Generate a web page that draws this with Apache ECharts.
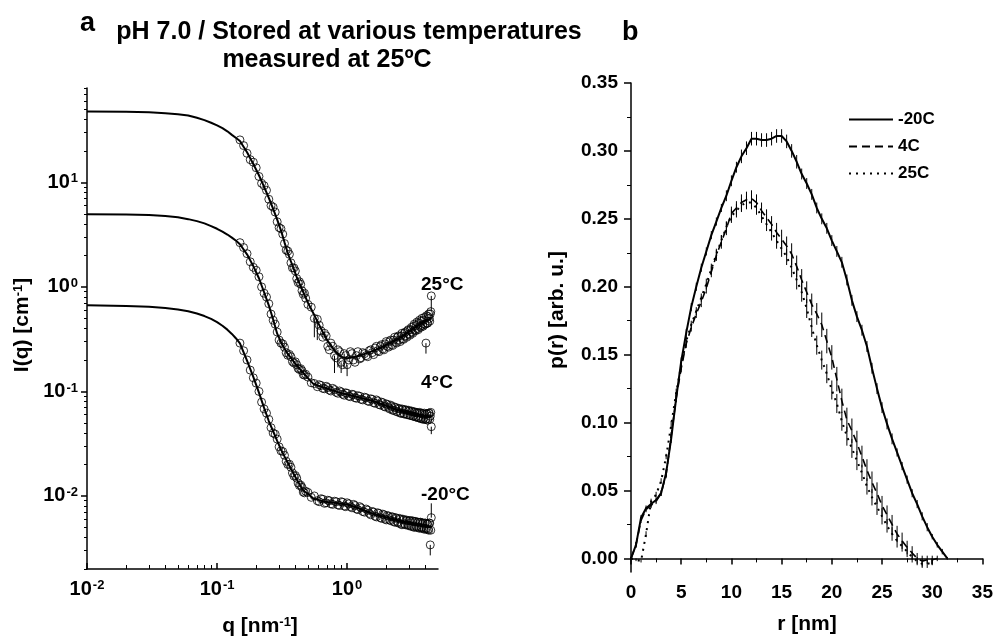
<!DOCTYPE html>
<html><head><meta charset="utf-8">
<script src="https://cdn.jsdelivr.net/npm/echarts@6/dist/echarts.min.js"></script>
<style>html,body{margin:0;padding:0;background:#fff}#c{width:996px;height:637px}</style>
</head><body><div id="c"></div>
<script>
// ---------- Panel a : SAXS curves ----------
const qFit = [0.01,0.02,0.03,0.04,0.05,0.06,0.07,0.08,0.09,0.10,0.11,0.12,0.13,0.14,0.15,0.17,0.19,0.21,0.23,0.25,0.27,0.29,0.31,0.33,0.35,0.37,0.39,0.41,0.43,0.45,0.47,0.50,0.55,0.60,0.65,0.70,0.80,0.90,1.0,1.2,1.4,1.6,1.8,2.0,2.3,2.6,3.0,3.4,3.8,4.2,4.44];
const fit25 = [47.6,47.4,46.8,45.9,44.9,43.7,41.5,39.4,37.2,35.1,33.0,30.8,28.5,26.6,24.9,19.4,15.0,11.7,9.04,7.11,5.57,4.40,3.48,2.67,2.11,1.75,1.47,1.24,1.08,0.95,0.84,0.706,0.560,0.450,0.371,0.311,0.247,0.214,0.208,0.216,0.231,0.246,0.261,0.279,0.304,0.330,0.374,0.418,0.452,0.483,0.501];
const fit4 = [4.96,4.93,4.87,4.76,4.63,4.45,4.26,4.05,3.82,3.60,3.38,3.17,2.96,2.76,2.56,2.05,1.58,1.21,0.889,0.667,0.488,0.357,0.297,0.257,0.228,0.209,0.192,0.177,0.166,0.155,0.146,0.134,0.118,0.1135,0.110,0.1067,0.101,0.0963,0.0933,0.0883,0.0842,0.0807,0.0765,0.0728,0.0683,0.0648,0.0625,0.0606,0.0589,0.0575,0.0568];
const fitM20 = [0.668,0.658,0.646,0.629,0.609,0.586,0.556,0.526,0.494,0.460,0.425,0.390,0.355,0.321,0.288,0.197,0.138,0.0975,0.0695,0.0521,0.0416,0.0337,0.0279,0.0239,0.0208,0.0182,0.0161,0.0144,0.0130,0.0117,0.0110,0.0105,0.00944,0.00917,0.00889,0.00877,0.00859,0.00841,0.00828,0.00771,0.00714,0.00671,0.00646,0.00624,0.00596,0.00574,0.00555,0.00537,0.00521,0.00509,0.00502];

const qData = [0.15,0.17,0.19,0.21,0.23,0.25,0.27,0.29,0.31,0.33,0.35,0.37,0.39,0.41,0.43,0.45,0.47,0.50,0.53,0.56,0.59,0.63,0.67,0.71,0.75,0.80,0.85,0.90,0.95,1.00,1.06,1.12,1.18,1.25,1.32,1.40,1.48,1.56,1.64,1.72,1.80,1.88,1.96,2.04,2.12,2.20,2.28,2.36,2.44,2.52,2.60,2.68,2.76,2.84,2.92,3.00,3.08,3.16,3.24,3.32,3.40,3.48,3.56,3.64,3.72,3.80,3.88,3.96,4.04,4.12,4.20,4.28,4.36,4.44];
const d25 = [25.5,19.0,15.6,11.4,9.3,6.9,5.8,4.2,3.6,2.6,2.2,1.70,1.52,1.20,1.12,0.92,0.87,0.68,0.64,0.50,0.49,0.38,0.36,0.27,0.29,0.22,0.25,0.19,0.23,0.18,0.24,0.20,0.22,0.205,0.235,0.22,0.245,0.235,0.26,0.245,0.27,0.255,0.285,0.27,0.30,0.28,0.31,0.295,0.33,0.31,0.34,0.32,0.36,0.34,0.38,0.355,0.39,0.37,0.42,0.39,0.43,0.40,0.45,0.42,0.47,0.43,0.48,0.44,0.29,0.45,0.52,0.50,0.55,0.82];
const d4 = [2.65,2.08,1.54,1.25,0.87,0.69,0.48,0.37,0.29,0.265,0.222,0.215,0.187,0.180,0.162,0.158,0.143,0.137,0.121,0.119,0.111,0.114,0.106,0.109,0.101,0.104,0.096,0.099,0.092,0.096,0.089,0.093,0.086,0.090,0.083,0.087,0.080,0.084,0.077,0.081,0.074,0.078,0.071,0.075,0.068,0.072,0.066,0.070,0.064,0.068,0.062,0.067,0.061,0.066,0.060,0.065,0.059,0.064,0.058,0.063,0.057,0.062,0.056,0.062,0.055,0.061,0.055,0.060,0.054,0.061,0.055,0.062,0.058,0.046];
const dM20 = [0.29,0.20,0.135,0.100,0.068,0.054,0.040,0.035,0.027,0.0245,0.0200,0.0188,0.0155,0.0148,0.0126,0.0121,0.0107,0.0108,0.0097,0.0100,0.0090,0.0094,0.0085,0.0091,0.0084,0.0089,0.0082,0.0088,0.0080,0.0086,0.0079,0.0083,0.0075,0.0079,0.0071,0.0075,0.0068,0.0071,0.0064,0.0069,0.0062,0.0067,0.0060,0.0065,0.0059,0.0063,0.0057,0.0062,0.0056,0.0061,0.0054,0.0060,0.0054,0.0059,0.0053,0.0058,0.0052,0.0058,0.0051,0.0057,0.0051,0.0056,0.0050,0.0056,0.0050,0.0055,0.0049,0.0055,0.0049,0.0054,0.0048,0.0055,0.0034,0.0062];
// interleaved second set of measured points
const qData2 = [0.16,0.18,0.20,0.22,0.24,0.26,0.28,0.30,0.32,0.34,0.36,0.38,0.40,0.42,0.44,0.46,0.48,0.61,0.65,0.69,0.73,0.775,0.825,0.875,0.925,0.975,1.03,1.09,1.15,1.21,1.28,1.36,1.44,1.52,1.60,1.68,1.76,1.84,1.92,2.00,2.08,2.16,2.24,2.32,2.40,2.48,2.56,2.64,2.72,2.80,2.88,2.96,3.04,3.12,3.20,3.28,3.36,3.44,3.52,3.60,3.68,3.76,3.84,3.92,4.00,4.08,4.16,4.24,4.32,4.40];
const d25b = [22.5,16.5,13.8,9.8,8.4,6.0,5.2,3.7,3.2,2.25,2.05,1.52,1.42,1.10,1.06,0.85,0.78,0.43,0.33,0.34,0.25,0.27,0.21,0.24,0.18,0.22,0.20,0.23,0.19,0.24,0.21,0.23,0.215,0.25,0.225,0.27,0.24,0.28,0.25,0.30,0.265,0.31,0.275,0.33,0.29,0.34,0.30,0.36,0.315,0.37,0.33,0.39,0.345,0.41,0.36,0.44,0.38,0.46,0.39,0.48,0.41,0.50,0.42,0.51,0.44,0.53,0.45,0.55,0.47,0.58];
const d4b = [2.38,1.74,1.44,1.00,0.80,0.55,0.44,0.31,0.285,0.235,0.226,0.193,0.192,0.166,0.165,0.145,0.146,0.116,0.107,0.112,0.103,0.107,0.098,0.101,0.094,0.097,0.090,0.094,0.087,0.091,0.084,0.088,0.081,0.085,0.078,0.083,0.075,0.079,0.072,0.076,0.070,0.074,0.066,0.071,0.064,0.069,0.062,0.068,0.061,0.067,0.060,0.066,0.059,0.065,0.058,0.064,0.057,0.063,0.056,0.063,0.055,0.062,0.054,0.062,0.054,0.061,0.053,0.062,0.054,0.063];
const dM20b = [0.245,0.160,0.120,0.079,0.062,0.045,0.039,0.0295,0.0266,0.0215,0.0201,0.0166,0.0157,0.0133,0.0127,0.0109,0.0111,0.0088,0.0093,0.0086,0.0090,0.0083,0.0088,0.0081,0.0087,0.0079,0.0084,0.0077,0.0081,0.0074,0.0077,0.0070,0.0073,0.0066,0.0070,0.0063,0.0068,0.0061,0.0066,0.0059,0.0064,0.0058,0.0063,0.0056,0.0061,0.0055,0.0060,0.0053,0.0059,0.0053,0.0058,0.0052,0.0058,0.0051,0.0057,0.0050,0.0057,0.0050,0.0056,0.0049,0.0056,0.0049,0.0055,0.0048,0.0055,0.0048,0.0054,0.0047,0.0055,0.0047];
// visible error bars [q, low, high]
const eb25 = [[0.56,0.33,0.50],[0.59,0.31,0.49],[0.80,0.15,0.22],[0.85,0.17,0.25],[0.90,0.15,0.19],[0.95,0.17,0.23],[1.00,0.14,0.18],[4.04,0.23,0.29],[4.44,0.59,0.82]];
const eb4 = [[4.44,0.039,0.046]];
const ebM20 = [[4.36,0.0027,0.0034],[4.44,0.0062,0.0085]];

const xMajorA = [0.01,0.1,1];
const xMajorExp = ['-2','-1','0'];
const xMinorA = [0.02,0.03,0.04,0.05,0.06,0.07,0.08,0.09,0.2,0.3,0.4,0.5,0.6,0.7,0.8,0.9,2,3,4];
const yMajorA = [0.01,0.1,1,10];
const yMajorExp = ['-2','-1','0','1'];
const yMinorA = [0.002,0.003,0.004,0.005,0.006,0.007,0.008,0.009,0.02,0.03,0.04,0.05,0.06,0.07,0.08,0.09,0.2,0.3,0.4,0.5,0.6,0.7,0.8,0.9,2,3,4,5,6,7,8,9,20,30,40,50,60,70,80];

// ---------- Panel b : p(r) ----------
const rGrid = [0,0.5,1,1.5,2,2.5,3,3.5,4,4.5,5,5.5,6,6.5,7,7.5,8,8.5,9,9.5,10,10.5,11,11.5,12,12.5,13,13.5,14,14.5,15,15.5,16,16.5,17,17.5,18,18.5,19,19.5,20,20.5,21,21.5,22,22.5,23,23.5,24,24.5,25,25.5,26,26.5,27,27.5,28,28.5,29,29.5,30,30.5,31,31.5];
const pM20 = [0.000,0.010,0.030,0.037,0.040,0.043,0.048,0.063,0.088,0.118,0.145,0.166,0.185,0.200,0.214,0.226,0.238,0.248,0.258,0.267,0.278,0.288,0.296,0.302,0.309,0.309,0.308,0.308,0.309,0.311,0.311,0.307,0.300,0.292,0.283,0.276,0.268,0.258,0.250,0.243,0.234,0.226,0.218,0.205,0.190,0.178,0.168,0.156,0.140,0.125,0.111,0.099,0.088,0.078,0.068,0.058,0.048,0.040,0.031,0.023,0.016,0.010,0.005,0.000];
const p4 = [0.000,0.010,0.028,0.036,0.039,0.042,0.048,0.062,0.090,0.118,0.140,0.158,0.170,0.180,0.189,0.199,0.211,0.223,0.233,0.243,0.254,0.258,0.262,0.264,0.265,0.262,0.256,0.251,0.246,0.240,0.235,0.230,0.224,0.215,0.205,0.196,0.187,0.180,0.172,0.160,0.148,0.132,0.116,0.102,0.094,0.085,0.075,0.065,0.056,0.048,0.039,0.032,0.025,0.018,0.013,0.008,0.004,0.000,-0.002,-0.001,-0.001,0.000];
const p25 = [0.000,-0.001,-0.002,0.018,0.042,0.047,0.057,0.075,0.098,0.122,0.142,0.160,0.172,0.182,0.192,0.202,0.213,0.224,0.234,0.244,0.252,0.256,0.260,0.262,0.262,0.258,0.252,0.246,0.240,0.234,0.228,0.222,0.214,0.205,0.196,0.184,0.170,0.157,0.146,0.136,0.124,0.114,0.101,0.090,0.081,0.072,0.063,0.053,0.045,0.038,0.031,0.024,0.018,0.013,0.009,0.005,0.001,-0.002,-0.004,-0.004,-0.003];
const eM20 = [0.001,0.002,0.002,0.002,0.002,0.002,0.002,0.003,0.003,0.003,0.003,0.003,0.003,0.003,0.003,0.003,0.003,0.003,0.003,0.004,0.004,0.004,0.005,0.005,0.005,0.005,0.005,0.005,0.005,0.005,0.005,0.005,0.005,0.005,0.004,0.004,0.004,0.004,0.004,0.004,0.004,0.004,0.004,0.004,0.004,0.004,0.004,0.004,0.004,0.004,0.004,0.004,0.004,0.003,0.003,0.003,0.003,0.003,0.003,0.003,0.002,0.002,0.002,0.001];
const e4 = [0.001,0.002,0.002,0.002,0.002,0.002,0.002,0.003,0.003,0.003,0.003,0.003,0.003,0.003,0.004,0.004,0.004,0.004,0.005,0.005,0.005,0.005,0.006,0.006,0.006,0.006,0.006,0.006,0.006,0.007,0.007,0.007,0.008,0.008,0.008,0.008,0.008,0.008,0.009,0.009,0.009,0.009,0.009,0.009,0.009,0.009,0.008,0.008,0.008,0.008,0.007,0.007,0.007,0.006,0.006,0.005,0.005,0.004,0.004,0.003,0.003,0.002];
const e25 = [0.001,0.001,0.001,0.002,0.002,0.002,0.002,0.002,0.003,0.003,0.003,0.003,0.003,0.003,0.003,0.004,0.004,0.004,0.004,0.004,0.005,0.005,0.005,0.005,0.005,0.005,0.005,0.005,0.006,0.006,0.006,0.006,0.007,0.007,0.007,0.007,0.007,0.007,0.007,0.007,0.007,0.007,0.007,0.007,0.007,0.007,0.006,0.006,0.006,0.006,0.006,0.005,0.005,0.005,0.004,0.004,0.004,0.003,0.003,0.003,0.002];
const yMajorB = [0,0.05,0.10,0.15,0.20,0.25,0.30,0.35];
const yMinorB = [0.025,0.075,0.125,0.175,0.225,0.275,0.325];
const legendNames = ['-20C','4C','25C'];

// ---------- build ----------
const FONT = '"Liberation Sans", Arial, Helvetica, sans-serif';
const chart = echarts.init(document.getElementById('c'), null, {renderer:'canvas'});
const pairs = (xs, ys) => ys.map((y, i) => [xs[i], y]);
const bars = (xs, ys, es) => ys.map((y, i) => [xs[i], y - es[i], y + es[i]]);
const errRender = (params, api) => {
  const a = api.coord([api.value(0), api.value(1)]);
  const b = api.coord([api.value(0), api.value(2)]);
  return {type:'line', shape:{x1:a[0], y1:a[1], x2:b[0], y2:b[1]}, style:{stroke:'#000', lineWidth:1}};
};
const expIndex = (vals, v) => vals.findIndex(t => Math.abs(Math.log10(t) - Math.log10(v)) < 1e-6);
const supRich = {
  b:{fontSize:20, fontWeight:'bold', fontFamily:FONT, color:'#000'},
  s:{fontSize:13, fontWeight:'bold', fontFamily:FONT, color:'#000', verticalAlign:'top', padding:[0,0,0,1]}
};
const black = {color:'#000', width:1.5};

const fitLine = (name, data) => ({name, type:'line', xAxisIndex:0, yAxisIndex:0, data, symbol:'none', silent:true,
  lineStyle:{color:'#000', width:2}, z:3});
const dots = (name, data) => ({name, type:'scatter', xAxisIndex:0, yAxisIndex:0, data, symbol:'circle', symbolSize:8, silent:true,
  itemStyle:{color:'rgba(0,0,0,0)', borderColor:'#000', borderWidth:1}, z:4});
const errSeries = (name, data, xi, yi) => ({name, type:'custom', xAxisIndex:xi, yAxisIndex:yi, data, renderItem:errRender,
  encode:{x:0, y:[1,2]}, silent:true, z:2});

const option = {
  animation:false,
  backgroundColor:'#fff',
  textStyle:{fontFamily:FONT},
  grid:[
    {left:87, top:88, width:351, height:481},
    {left:631, top:83, width:355, height:489}
  ],
  xAxis:[
    {type:'log', gridIndex:0, min:0.01, max:5, position:'bottom',
      axisLine:{lineStyle:black},
      axisTick:{customValues:xMajorA, length:6, inside:true, lineStyle:black},
      axisLabel:{customValues:xMajorA, margin:10, rich:supRich,
        formatter:v => { const i = expIndex(xMajorA, v); return i < 0 ? '' : '{b|10}{s|' + xMajorExp[i] + '}'; }},
      splitLine:{show:false}},
    {type:'log', gridIndex:0, min:0.01, max:5, position:'bottom',
      axisLine:{show:false},
      axisTick:{customValues:xMinorA, length:4, inside:true, lineStyle:{color:'#000', width:1}},
      axisLabel:{show:false}, splitLine:{show:false}},
    {type:'value', gridIndex:1, min:0, max:35, interval:5, position:'bottom',
      axisLine:{lineStyle:black},
      axisTick:{length:6, lineStyle:black},
      minorTick:{show:true, splitNumber:2, length:4, lineStyle:{color:'#000', width:1}},
      axisLabel:{margin:11, color:'#000', fontSize:19, fontWeight:'bold', fontFamily:FONT},
      splitLine:{show:false}, minorSplitLine:{show:false}}
  ],
  yAxis:[
    {type:'log', gridIndex:0, min:0.002, max:80, position:'left',
      axisLine:{lineStyle:black},
      axisTick:{customValues:yMajorA, length:6, lineStyle:black},
      axisLabel:{customValues:yMajorA, margin:9, rich:supRich,
        formatter:v => { const i = expIndex(yMajorA, v); return i < 0 ? '' : '{b|10}{s|' + yMajorExp[i] + '}'; }},
      splitLine:{show:false}},
    {type:'log', gridIndex:0, min:0.002, max:80, position:'left',
      axisLine:{show:false},
      axisTick:{customValues:yMinorA, length:3, lineStyle:{color:'#000', width:1}},
      axisLabel:{show:false}, splitLine:{show:false}},
    {type:'value', gridIndex:1, min:-0.01, max:0.35, position:'left',
      axisLine:{lineStyle:black},
      axisTick:{customValues:yMajorB, length:7, lineStyle:black},
      axisLabel:{customValues:yMajorB, margin:13, color:'#000', fontSize:19, fontWeight:'bold', fontFamily:FONT,
        formatter:v => v.toFixed(2)},
      splitLine:{show:false}},
    {type:'value', gridIndex:1, min:-0.01, max:0.35, position:'left',
      axisLine:{show:false},
      axisTick:{customValues:yMinorB, length:4, lineStyle:{color:'#000', width:1}},
      axisLabel:{show:false}, splitLine:{show:false}}
  ],
  legend:{data:legendNames, orient:'vertical', left:843, top:106, itemWidth:44, itemHeight:14, itemGap:10,
    selectedMode:false, itemStyle:{opacity:0},
    textStyle:{fontSize:17, fontWeight:'bold', color:'#000', fontFamily:FONT}},
  series:[
    fitLine('fit25', pairs(qFit, fit25)),
    fitLine('fit4', pairs(qFit, fit4)),
    fitLine('fitM20', pairs(qFit, fitM20)),
    dots('d25', pairs(qData, d25).concat(pairs(qData2, d25b))),
    dots('d4', pairs(qData, d4).concat(pairs(qData2, d4b))),
    dots('dM20', pairs(qData, dM20).concat(pairs(qData2, dM20b))),
    errSeries('eb25', eb25, 0, 0),
    errSeries('eb4', eb4, 0, 0),
    errSeries('ebM20', ebM20, 0, 0),
    {name:'-20C', type:'line', xAxisIndex:2, yAxisIndex:2, data:pairs(rGrid, pM20), symbol:'none', silent:true,
      itemStyle:{color:'#000'}, lineStyle:{color:'#000', width:2, type:'solid'}},
    {name:'4C', type:'line', xAxisIndex:2, yAxisIndex:2, data:pairs(rGrid, p4), symbol:'none', silent:true,
      itemStyle:{color:'#000'}, lineStyle:{color:'#000', width:1.6, type:[8,5]}},
    {name:'25C', type:'line', xAxisIndex:2, yAxisIndex:2, data:pairs(rGrid, p25), symbol:'none', silent:true,
      itemStyle:{color:'#000'}, lineStyle:{color:'#000', width:2, type:[2,5]}},
    errSeries('errM20', bars(rGrid, pM20, eM20), 2, 2),
    errSeries('err4', bars(rGrid, p4, e4), 2, 2),
    errSeries('err25', bars(rGrid, p25, e25), 2, 2)
  ],
  graphic:[
    {type:'text', x:80, y:24, style:{text:'a', font:'bold 27px ' + FONT, fill:'#000', textAlign:'left', textVerticalAlign:'middle'}},
    {type:'text', x:622, y:33, style:{text:'b', font:'bold 27px ' + FONT, fill:'#000', textAlign:'left', textVerticalAlign:'middle'}},
    {type:'text', x:349, y:32, style:{text:'pH 7.0 / Stored at various temperatures', font:'bold 25px ' + FONT, fill:'#000', textAlign:'center', textVerticalAlign:'middle'}},
    {type:'text', x:327, y:60, style:{text:'measured at 25ºC', font:'bold 25px ' + FONT, fill:'#000', textAlign:'center', textVerticalAlign:'middle'}},
    {type:'text', x:22, y:325, rotation:Math.PI/2, style:{text:'{n|I(q) [cm}{s|-1}{n|]}', textAlign:'center', textVerticalAlign:'middle',
      rich:{n:{fontSize:21, fontWeight:'bold', fontFamily:FONT, fill:'#000'}, s:{fontSize:13, fontWeight:'bold', fontFamily:FONT, fill:'#000', verticalAlign:'top'}}}},
    {type:'text', x:260, y:626, style:{text:'{n|q [nm}{s|-1}{n|]}', textAlign:'center', textVerticalAlign:'middle',
      rich:{n:{fontSize:21, fontWeight:'bold', fontFamily:FONT, fill:'#000'}, s:{fontSize:13, fontWeight:'bold', fontFamily:FONT, fill:'#000', verticalAlign:'top'}}}},
    {type:'text', x:807, y:624, style:{text:'r [nm]', font:'bold 21px ' + FONT, fill:'#000', textAlign:'center', textVerticalAlign:'middle'}},
    {type:'text', x:557, y:310, rotation:Math.PI/2, style:{text:'p(r) [arb. u.]', font:'bold 21px ' + FONT, fill:'#000', textAlign:'center', textVerticalAlign:'middle'}},
    {type:'text', x:421, y:285, style:{text:'25°C', font:'bold 19px ' + FONT, fill:'#000', textAlign:'left', textVerticalAlign:'middle'}},
    {type:'text', x:421, y:383, style:{text:'4°C', font:'bold 19px ' + FONT, fill:'#000', textAlign:'left', textVerticalAlign:'middle'}},
    {type:'text', x:421, y:495, style:{text:'-20°C', font:'bold 19px ' + FONT, fill:'#000', textAlign:'left', textVerticalAlign:'middle'}}
  ]
};
chart.setOption(option);
</script></body></html>
